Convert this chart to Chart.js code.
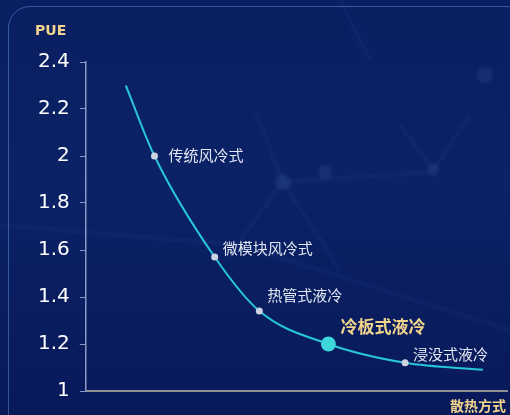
<!DOCTYPE html>
<html>
<head>
<meta charset="utf-8">
<script src="https://cdn.jsdelivr.net/npm/chart.js@4"></script>
<style>
  html, body { margin: 0; padding: 0; }
  body {
    width: 510px; height: 415px; overflow: hidden;
    background: linear-gradient(180deg, #0a1f62 0%, #0b2266 45%, #08195a 100%);
  }
  .frame {
    position: absolute; left: 8px; top: 6px; width: 520px; height: 440px;
    border: 1px solid rgba(110, 160, 230, 0.45); border-radius: 22px;
    box-sizing: border-box;
  }
  .wrap { position: absolute; left: 0; top: 0; width: 510px; height: 415px; }
</style>
</head>
<body>
<div class="frame"></div>
<div class="wrap"><canvas id="pueChart" width="510" height="415"></canvas></div>
<script>
// Courbe PUE par mode de refroidissement
const positions = [9.5, 16.3, 30.6, 41.2, 57.6, 75.8, 94.3];
const pueValues = [2.30, 2.00, 1.57, 1.34, 1.20, 1.12, 1.09];
const methods = ['', '传统风冷式', '微模块风冷式', '热管式液冷', '冷板式液冷', '浸没式液冷', ''];
const highlight = '冷板式液冷';
const yTicks = [1, 1.2, 1.4, 1.6, 1.8, 2, 2.2, 2.4];

const GOLD = '#f1d48c';

// petites lignes "réseau" en fond
const decoPlugin = {
    id: 'deco',
    beforeDraw(chart) {
        const c = chart.ctx;
        c.save();
        c.strokeStyle = 'rgba(120, 160, 230, 0.06)';
        c.lineWidth = 4;
        c.filter = 'blur(1.5px)';
        const segs = [
            [[283, 182], [255, 110]], [[283, 182], [340, 270]], [[283, 182], [225, 260]],
            [[283, 182], [430, 172]], [[433, 170], [400, 125]], [[433, 170], [470, 115]],
            [[0, 225], [240, 245]], [[240, 245], [510, 330]], [[340, 0], [370, 60]]
        ];
        segs.forEach(s => {
            c.beginPath();
            c.moveTo(s[0][0], s[0][1]);
            c.lineTo(s[1][0], s[1][1]);
            c.stroke();
        });
        c.fillStyle = 'rgba(140, 180, 240, 0.10)';
        [[283, 182, 8], [325, 172, 7], [433, 170, 6], [485, 75, 8]].forEach(p => {
            c.beginPath();
            c.arc(p[0], p[1], p[2], 0, Math.PI * 2);
            c.fill();
        });
        c.restore();
    }
};

// étiquettes des points + titres des axes
const labelPlugin = {
    id: 'labels',
    afterDatasetsDraw(chart) {
        const c = chart.ctx;
        const meta = chart.getDatasetMeta(0);
        c.save();
        c.textBaseline = 'middle';
        c.textAlign = 'left';
        meta.data.forEach((pt, i) => {
            const name = methods[i];
            if (!name) return;
            if (name === highlight) {
                c.font = 'bold 17px "Noto Sans CJK SC"';
                c.fillStyle = GOLD;
                c.fillText(name, pt.x + 12, pt.y - 17);
            } else {
                c.font = '15px "Noto Sans CJK SC"';
                c.fillStyle = '#e4e8f4';
                const dy = i === 1 ? -1 : (i === 3 ? -16 : -9);
                c.fillText(name, pt.x + (i === 1 ? 14 : 8), pt.y + dy);
            }
        });
        c.font = 'bold 14px "DejaVu Sans"';
        c.fillStyle = GOLD;
        c.fillText('PUE', 35, 31);
        c.font = 'bold 14px "Noto Sans CJK SC"';
        c.textAlign = 'right';
        c.fillText('散热方式', 506, 406);
        c.restore();
    }
};

new Chart(document.getElementById('pueChart'), {
    type: 'line',
    data: {
        datasets: [{
            data: positions.map((x, i) => ({ x: x, y: pueValues[i] })),
            borderColor: '#27c6da',
            borderWidth: 2,
            cubicInterpolationMode: 'monotone',
            pointRadius: methods.map(m => m === highlight ? 7.5 : (m ? 3.5 : 0)),
            pointBackgroundColor: methods.map(m => m === highlight ? '#3ed8dc' : '#cdd2e2'),
            pointBorderWidth: 0,
            fill: false
        }]
    },
    options: {
        responsive: false,
        animation: false,
        layout: { padding: { left: 28, right: 3, top: 62, bottom: 16 } },
        plugins: { legend: { display: false }, tooltip: { enabled: false } },
        scales: {
            x: {
                type: 'linear', min: 0, max: 100,
                ticks: { display: false },
                grid: { display: false },
                border: { color: '#8f8f96', width: 2 }
            },
            y: {
                min: 1, max: 2.4,
                afterBuildTicks: axis => { axis.ticks = yTicks.map(v => ({ value: v })); },
                ticks: {
                    color: '#ffffff',
                    font: { family: 'DejaVu Sans', size: 20 },
                    padding: 10,
                    callback: v => String(Math.round(v * 10) / 10)
                },
                grid: { drawOnChartArea: false, drawTicks: true, tickLength: 6, color: '#8a98c4' },
                border: { color: '#8a98c4', width: 1.5 }
            }
        }
    },
    plugins: [decoPlugin, labelPlugin]
});
</script>
</body>
</html>
